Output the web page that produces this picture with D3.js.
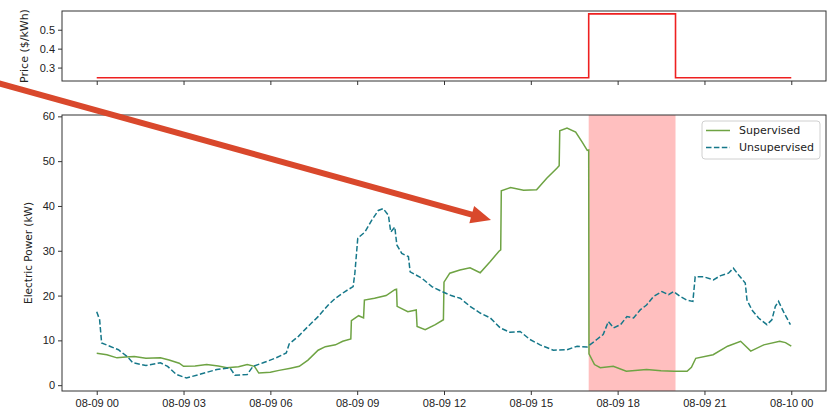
<!DOCTYPE html>
<html>
<head>
<meta charset="utf-8">
<script src="https://cdn.jsdelivr.net/npm/d3@7"></script>
<style>
  body { margin: 0; background: #fff; }
  svg { display: block; font-family: "DejaVu Sans", sans-serif; }
</style>
</head>
<body>
<div id="chart"></div>
<script>
// hours since 08-09 00:00 and power in kW
var supHours = [0, 0.35, 0.7, 1.0, 1.3, 1.7, 2.2, 2.5, 2.85, 3.0, 3.4, 3.8, 4.2, 4.5, 4.9, 5.2, 5.45, 5.6,
  6.0, 6.3, 6.7, 7.0, 7.3, 7.65, 7.9, 8.25, 8.5, 8.78, 8.8, 9.05, 9.22, 9.25, 9.6, 10.0, 10.3, 10.36,
  10.38, 10.75, 11.04, 11.07, 11.35, 11.7, 11.98, 12.0, 12.2, 12.55, 12.9, 13.25, 13.6, 13.9, 13.96,
  13.98, 14.3, 14.75, 15.2, 15.55, 15.9, 15.98, 16.0, 16.25, 16.55, 16.77, 16.95, 17.0, 17.01, 17.2,
  17.4, 17.85, 18.3, 19.0, 19.5, 19.95, 20.4, 20.55, 20.7, 21.3, 21.8, 22.25, 22.6, 23.05, 23.6, 23.8, 24.0];
var supKw = [7.1, 6.8, 6.1, 6.3, 6.4, 6.0, 6.1, 5.6, 4.9, 4.2, 4.3, 4.6, 4.3, 3.9, 4.1, 4.6, 4.2, 2.7,
  2.9, 3.3, 3.8, 4.2, 5.6, 7.8, 8.6, 9.0, 9.8, 10.3, 14.4, 15.5, 15.0, 19.0, 19.4, 20.0, 21.3, 21.4,
  17.6, 16.4, 16.8, 13.1, 12.4, 13.5, 14.6, 23.0, 25.0, 25.7, 26.2, 25.1, 27.6, 29.9, 30.2,
  43.4, 44.1, 43.5, 43.6, 46.2, 48.4, 49.0, 56.8, 57.4, 56.5, 54.3, 52.4, 52.5, 7.0, 4.6,
  3.9, 4.2, 3.1, 3.5, 3.2, 3.1, 3.1, 4.0, 6.0, 6.8, 8.7, 9.8, 7.6, 9.0, 9.8, 9.5, 8.7];

var unsHours = [0, 0.1, 0.17, 0.45, 0.75, 1.05, 1.25, 1.7, 2.2, 2.45, 2.75, 3.1, 3.55, 4.15, 4.6, 4.78,
  5.2, 5.4, 5.75, 6.2, 6.55, 6.65, 6.97, 7.3, 7.65, 8.0, 8.25, 8.58, 8.86, 8.92, 9.02, 9.27, 9.5, 9.73,
  9.9, 10.08, 10.16, 10.3, 10.37, 10.54, 10.77, 10.83, 11.23, 11.58, 11.93, 12.25, 12.56, 12.9, 13.25,
  13.6, 13.94, 14.28, 14.63, 14.97, 15.32, 15.78, 16.25, 16.6, 16.94, 17.28, 17.5, 17.68, 17.86, 18.1,
  18.32, 18.55, 18.78, 19.0, 19.24, 19.53, 19.76, 19.93, 20.16, 20.39, 20.6, 20.68, 20.97, 21.31, 21.54,
  21.83, 22.0, 22.18, 22.41, 22.47, 22.64, 22.87, 23.16, 23.33, 23.45, 23.56, 23.73, 23.97];
var unsKw = [16.4, 14.6, 9.4, 8.7, 7.9, 6.4, 5.0, 4.4, 5.0, 4.2, 2.4, 1.6, 2.4, 3.5, 3.9, 2.2,
  2.4, 4.2, 5.0, 6.1, 7.2, 9.2, 10.9, 13.1, 15.3, 17.9, 19.4, 20.9, 22.0, 25.0, 32.8, 34.2, 36.8, 39.0,
  39.4, 37.9, 34.2, 35.3, 31.3, 29.4, 28.7, 25.3, 23.9, 22.0, 20.9, 20.0, 19.4, 17.6, 16.1,
  15.0, 12.8, 11.8, 12.0, 10.2, 9.0, 7.8, 7.9, 8.7, 8.5, 10.2, 11.3, 14.2, 12.8, 13.5,
  15.3, 15.0, 16.8, 17.9, 19.8, 20.9, 20.2, 20.9, 19.8, 19.0, 18.7, 24.2, 24.2, 23.5, 24.4,
  25.0, 26.1, 24.6, 22.8, 19.0, 16.8, 15.0, 13.5, 14.6, 17.6, 18.7, 16.4, 13.5];

// price ($/kWh), step changes
var priceHours = [0, 17, 17, 20, 20, 24];
var priceVals = [0.246, 0.246, 0.584, 0.584, 0.246, 0.246];

var peakWindow = [17, 20];
var tickHours = [0, 3, 6, 9, 12, 15, 18, 21, 24];
var tickLabels = ["08-09 00", "08-09 03", "08-09 06", "08-09 09", "08-09 12", "08-09 15", "08-09 18", "08-09 21", "08-10 00"];
var seriesNames = ["Supervised", "Unsupervised"];

function init(){
    var w = 829, h = 411;
    var left = 62, right = 826;
    var green = "#6ea343", teal = "#16788a", ink = "#333";

    var svg = d3.select("#chart").append("svg")
        .attr("width", w).attr("height", h);

    var x = d3.scaleLinear().domain([-1.2, 25.2]).range([left, right]);

    // ---- top panel: price ----
    var yp = d3.scaleLinear().domain([0.229, 0.599]).range([81, 11]);
    var top = svg.append("g");

    top.append("g")
        .attr("transform", "translate(0,81)")
        .call(d3.axisBottom(x).tickValues(tickHours).tickFormat("").tickSize(4).tickSizeOuter(0))
        .call(g => g.select(".domain").remove())
        .call(g => g.selectAll("line").attr("stroke", ink));

    top.append("g")
        .attr("transform", "translate(" + left + ",0)")
        .call(d3.axisLeft(yp).tickValues([0.3, 0.4, 0.5]).tickFormat(d3.format(".1f")).tickSize(4).tickPadding(3))
        .call(g => g.select(".domain").remove())
        .call(g => g.selectAll("line").attr("stroke", ink))
        .call(g => g.selectAll("text").attr("fill", "#222").style("font-size", "11px"));

    var priceLine = d3.line().x((d, i) => x(priceHours[i])).y(d => yp(d));
    top.append("path").datum(priceVals)
        .attr("d", priceLine)
        .attr("fill", "none").attr("stroke", "#ee2020").attr("stroke-width", 1.6);

    top.append("rect").attr("x", left).attr("y", 11).attr("width", right - left).attr("height", 70)
        .attr("fill", "none").attr("stroke", ink).attr("stroke-width", 1);

    top.append("text")
        .attr("transform", "translate(24,46) rotate(-90)")
        .attr("text-anchor", "middle").attr("dominant-baseline", "central")
        .style("font-size", "11px").attr("fill", "#222")
        .text("Price ($/kWh)");

    // ---- main panel: power ----
    var y = d3.scaleLinear().domain([-1.3, 60.3]).range([391, 115]);
    var main = svg.append("g");

    main.append("rect")
        .attr("x", x(peakWindow[0])).attr("y", 115)
        .attr("width", x(peakWindow[1]) - x(peakWindow[0])).attr("height", 276)
        .attr("fill", "#ffbfbf");

    main.append("g")
        .attr("transform", "translate(0,391)")
        .call(d3.axisBottom(x).tickValues(tickHours).tickFormat((d, i) => tickLabels[i]).tickSize(4).tickPadding(4).tickSizeOuter(0))
        .call(g => g.select(".domain").remove())
        .call(g => g.selectAll("line").attr("stroke", ink))
        .call(g => g.selectAll("text").attr("fill", "#222").style("font-size", "11px"));

    main.append("g")
        .attr("transform", "translate(" + left + ",0)")
        .call(d3.axisLeft(y).tickValues([0, 10, 20, 30, 40, 50, 60]).tickSize(4).tickPadding(3))
        .call(g => g.select(".domain").remove())
        .call(g => g.selectAll("line").attr("stroke", ink))
        .call(g => g.selectAll("text").attr("fill", "#222").style("font-size", "11px"));

    main.append("text")
        .attr("transform", "translate(28,253) rotate(-90)")
        .attr("text-anchor", "middle").attr("dominant-baseline", "central")
        .style("font-size", "10.5px").attr("fill", "#222")
        .text("Electric Power (kW)");

    var supLine = d3.line().x((d, i) => x(supHours[i])).y(d => y(d));
    var unsLine = d3.line().x((d, i) => x(unsHours[i])).y(d => y(d));

    main.append("path").datum(supKw)
        .attr("d", supLine)
        .attr("fill", "none").attr("stroke", green).attr("stroke-width", 1.5);

    main.append("path").datum(unsKw)
        .attr("d", unsLine)
        .attr("fill", "none").attr("stroke", teal).attr("stroke-width", 1.5)
        .attr("stroke-dasharray", "5.5,2.4");

    main.append("rect").attr("x", left).attr("y", 115).attr("width", right - left).attr("height", 276)
        .attr("fill", "none").attr("stroke", ink).attr("stroke-width", 1);

    // legend
    var leg = main.append("g").attr("transform", "translate(702,121)");
    leg.append("rect").attr("width", 118).attr("height", 38).attr("rx", 3)
        .attr("fill", "#fff").attr("fill-opacity", 0.8).attr("stroke", "#d0d0d0");
    var entries = leg.selectAll("g.entry").data(seriesNames).enter().append("g")
        .attr("class", "entry")
        .attr("transform", (d, i) => "translate(0," + (9.5 + i * 17) + ")");
    entries.append("line").attr("x1", 4).attr("x2", 28)
        .attr("stroke", (d, i) => i === 0 ? green : teal).attr("stroke-width", 1.5)
        .attr("stroke-dasharray", (d, i) => i === 0 ? null : "5.5,2.4");
    entries.append("text").attr("x", 37).attr("dominant-baseline", "central")
        .style("font-size", "11px").attr("fill", "#222")
        .text(d => d);

    // annotation arrow laid over the figure
    var tip = [491, 220], start = [-2, 83];
    var dx = tip[0] - start[0], dy = tip[1] - start[1], len = Math.sqrt(dx * dx + dy * dy);
    var ux = dx / len, uy = dy / len, headL = 20, headW = 9;
    var bx = tip[0] - ux * headL, by = tip[1] - uy * headL;
    svg.append("line")
        .attr("x1", start[0]).attr("y1", start[1]).attr("x2", bx + ux * 2).attr("y2", by + uy * 2)
        .attr("stroke", "#d9482c").attr("stroke-width", 6);
    svg.append("path")
        .attr("d", "M" + tip[0] + "," + tip[1] +
            "L" + (bx - uy * headW) + "," + (by + ux * headW) +
            "L" + (bx + uy * headW) + "," + (by - ux * headW) + "Z")
        .attr("fill", "#d9482c");
}
window.onload = init;
</script>
</body>
</html>
